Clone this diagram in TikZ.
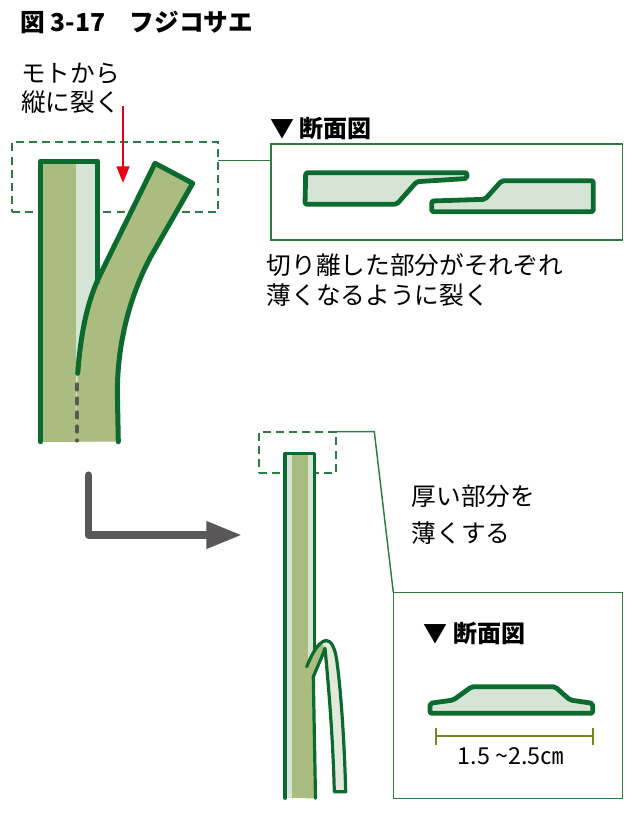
\documentclass[tikz,border=0pt]{standalone}
\usepackage{fontspec}
\setmainfont{Noto Sans CJK JP}
\usetikzlibrary{fit,calc,arrows.meta}

\definecolor{leafdark}{HTML}{0B6B2E}
\definecolor{leafolive}{HTML}{ABBC80}
\definecolor{leafpale}{HTML}{D6E4D6}
\definecolor{peelpale}{HTML}{E3E9DA}
\definecolor{turngray}{HTML}{595757}
\definecolor{cutred}{HTML}{E60012}
\definecolor{rulergreen}{HTML}{6F8A1E}
\definecolor{boxgreen}{HTML}{2B7D40}

\begin{document}
\begin{tikzpicture}[x=0.75pt,y=-0.75pt,
  stemline/.style={draw=leafdark, line width=3.75pt, line cap=round, line join=round},
  thinstem/.style={draw=leafdark, line width=2.4pt, line cap=round, line join=round},
  crosscut/.style={draw=leafdark, fill=leafpale, line width=3.6pt, line join=round, rounded corners=1.5pt},
  framebox/.style={draw=boxgreen, line width=1.1pt, inner sep=0pt, outer sep=0pt},
  zoombox/.style={draw=boxgreen, line width=1.4pt, dash pattern=on 6pt off 3.8pt, inner sep=0pt, outer sep=0pt},
  linkline/.style={draw=boxgreen, line width=1.1pt},
  jtext/.style={font=\fontsize{18.5}{22}\selectfont, anchor=west, inner sep=0pt},
  headtext/.style={font=\fontsize{18}{22}\selectfont\bfseries, anchor=west, inner sep=0pt},
]
\useasboundingbox (0,0) rectangle (627,824);

% ---- title and notes ----
\node[font=\fontsize{18.5}{22}\selectfont\bfseries, anchor=west, inner sep=0pt] (title) at (20,22) {図 3-17　フジコサエ};
\node[jtext] (cut1) at (21,74) {モトから};
\node[jtext] (cut2) at (21,102) {縦に裂く};
\node[headtext] (headA) at (270,128) {▼ 断面図};
\node[jtext] (noteA1) at (266.5,265) {切り離した部分がそれぞれ};
\node[jtext] (noteA2) at (266.5,295) {薄くなるように裂く};
\node[jtext] (noteB1) at (411.5,496) {厚い部分を};
\node[jtext] (noteB2) at (411.5,533) {薄くする};
\node[headtext] (headB) at (423.3,633.3) {▼ 断面図};
\node[font=\fontsize{17.5}{21}\selectfont, inner sep=0pt] (width) at (511,756) {1.5 \textasciitilde2.5㎝};

% ---- frames ----
\node[zoombox, fit={(12,142) (218,212)}] (zoomA) {};
\node[framebox, fit={(271,144) (622.3,240)}] (sectA) {};
\node[zoombox, fit={(259,431.7) (335.7,473.3)}] (zoomB) {};
\node[framebox, fit={(393.3,592.3) (622.3,798.3)}] (sectB) {};

\coordinate (levelA) at (0,160.7);
\draw[linkline] (zoomA.east |- levelA) -- (sectA.west |- levelA);
\coordinate (bendB) at (374.3,431.7);
\draw[linkline] (zoomB.north east) -- (bendB) -- (sectB.north west);

% ---- splitting stem ----
\fill[leafpale] (76,161) rectangle (97.3,441.7);
\fill[leafolive] (40.7,161) rectangle (76,441.7);
\fill[leafolive] (76,441.7) -- (77.7,373.3) .. controls (81,330) and (88,300) .. (100,275)
  -- (155,163.3) -- (192.7,183.3) -- (150,258) .. controls (128,300) and (116,350) .. (117.5,400)
  -- (118.3,441.7) -- cycle;
\coordinate (splitA) at (77,384);
\coordinate (splitB) at (77,441);
\draw[turngray, line width=2.3pt, line cap=round, dash pattern=on 4.5pt off 6pt] (splitA) -- (splitB);
\draw[stemline] (40.7,441.7) -- (40.7,161) -- (97.3,161) -- (97.3,281.7);
\draw[stemline] (77.7,373.3) .. controls (81,330) and (88,300) .. (100,275)
  -- (155,163.3) -- (192.7,183.3) -- (150,258) .. controls (128,300) and (116,350) .. (117.5,400)
  -- (118.3,441.7);

% red arrow: split direction
\coordinate (cuttop) at (123,106);
\coordinate (cuttip) at (123,183);
\draw[cutred, line width=1.6pt, -{Triangle[length=12.5pt, width=9.5pt]}] (cuttop) -- (cuttip);

% gray turn arrow
\coordinate (turnA) at (88.3,475);
\coordinate (turnB) at (88.3,535);
\coordinate (turnC) at (241.7,535);
\draw[turngray, line width=5.3pt, line cap=round, line join=round, -{Triangle[length=26.5pt, width=19.5pt]}] (turnA) -- (turnB) -- (turnC);

% ---- first cross-section ----
\draw[crosscut] (305.7,172.7) -- (467,172.7) -- (467,178.5) -- (416.7,181.7) -- (396.7,204.3) -- (305,204.3) -- cycle;
\draw[crosscut] (431.7,201) -- (485,199.3) -- (501.7,180.7) -- (593.3,180.7) -- (593.3,211.7) -- (431.7,211.7) -- cycle;

% ---- trimmed stem ----
\fill[leafpale] (285,453.3) rectangle (314.5,798.3);
\fill[leafolive] (291.7,453.3) rectangle (308.3,798.3);
\fill[peelpale] (325,648.3) .. controls (329,690) and (333,740) .. (334.3,791.7) -- (345.7,791.7)
  .. controls (344.5,745) and (341,690) .. (336.7,660) .. controls (335,648) and (331,640) .. (326,640.5)
  -- (321,642.5) -- cycle;
\fill[leafolive] (306,798.3) -- (306.7,666.7) .. controls (310,657) and (315,647) .. (321,642.5)
  -- (325,648.3) -- (321.7,657) -- (313.3,676.7) -- (315.5,798.3) -- cycle;
\draw[thinstem] (285,798.3) -- (285,453.3) -- (314.5,453.3) -- (314.5,651);
\draw[thinstem] (315.5,798.3) -- (313.3,676.7) -- (321.7,657) -- (325,648.3)
  .. controls (329,690) and (333,740) .. (334.3,791.7) -- (345.7,791.7)
  .. controls (344.5,745) and (341,690) .. (336.7,660) .. controls (335,648) and (331,640) .. (326,640.5)
  .. controls (318,641.5) and (311,656) .. (306.7,666.7);

% ---- second cross-section ----
\draw[crosscut] (430,703.3) -- (453.3,700) -- (471.7,686.7) -- (555,686.7) -- (570,700) -- (592.7,703.3) -- (592.7,713.3) -- (430,713.3) -- cycle;

% width ruler
\coordinate (rulerL) at (435.7,736);
\coordinate (rulerR) at (592.7,736);
\draw[rulergreen, line width=1.2pt] (rulerL) -- (rulerR);
\draw[rulergreen, line width=1.2pt] ($(rulerL)+(0,-8.3)$) -- ($(rulerL)+(0,9)$);
\draw[rulergreen, line width=1.2pt] ($(rulerR)+(0,-8.3)$) -- ($(rulerR)+(0,9)$);
\end{tikzpicture}
\end{document}
